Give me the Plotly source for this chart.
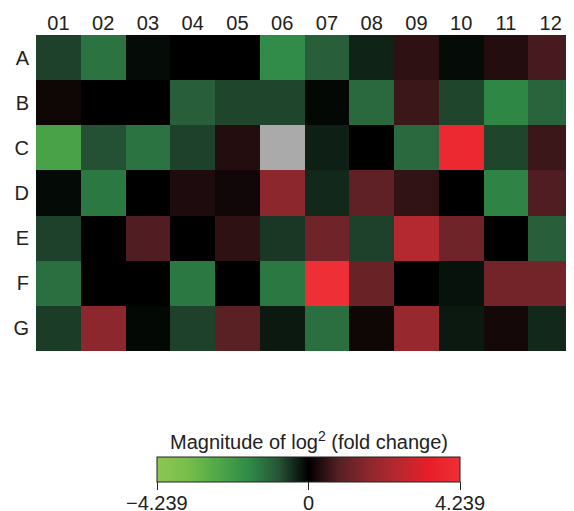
import plotly.graph_objects as go

rows = ["A", "B", "C", "D", "E", "F", "G"]
cols = ["01", "02", "03", "04", "05", "06", "07", "08", "09", "10", "11", "12"]

row_A = [-0.65, -1.31, -0.12, 0.0, 0.0, -1.70, -1.0, -0.35, 0.45, -0.12, 0.35, 0.70]
row_B = [0.15, 0.0, 0.0, -1.0, -0.70, -0.70, -0.08, -1.16, 0.60, -0.70, -1.62, -1.08]
row_C = [-2.35, -0.80, -1.31, -0.65, 0.35, None, -0.32, 0.0, -1.16, 3.9, -0.70, 0.60]
row_D = [-0.10, -1.39, 0.0, 0.30, 0.18, 1.70, -0.40, 1.0, 0.50, 0.0, -1.55, 0.80]
row_E = [-0.65, 0.0, 0.80, 0.0, 0.45, -0.55, 1.23, -0.65, 2.45, 1.23, 0.0, -1.0]
row_F = [-1.23, 0.0, 0.0, -1.39, 0.0, -1.39, 4.239, 1.16, 0.0, -0.18, 1.31, 1.31]
row_G = [-0.60, 1.70, -0.08, -0.65, 0.93, -0.25, -1.23, 0.15, 1.89, -0.25, 0.20, -0.40]

z = [row_A, row_B, row_C, row_D, row_E, row_F, row_G]
zlim = 4.239
tick_vals = [-4.239, 0, 4.239]
tick_text = ["\u22124.239", "0", "4.239"]
cbar_title = "Magnitude of log<sup>2</sup> (fold change)"

colorscale = [
    [0.0, "rgb(140,198,82)"],
    [0.1, "rgb(120,190,75)"],
    [0.2, "rgb(80,168,72)"],
    [0.3, "rgb(48,140,72)"],
    [0.4, "rgb(38,85,55)"],
    [0.5, "rgb(0,0,0)"],
    [0.6, "rgb(85,32,36)"],
    [0.7, "rgb(140,40,45)"],
    [0.8, "rgb(185,40,48)"],
    [0.9, "rgb(232,30,40)"],
    [1.0, "rgb(238,48,54)"],
]

font = "Liberation Sans, Arial, sans-serif"
# page body has an 8px margin: figure coordinates = reference - 8
W, H = 566, 520
L, R, T = 28, 1, 27
plot_bottom = 343
B = H - plot_bottom
pw, ph = W - L - R, H - T - B
cb_len = 303
cb_center = 300.5
cx = (cb_center - L) / pw
cb_top = 449

fig = go.Figure(go.Heatmap(
    z=z, x=cols, y=rows,
    zmin=-zlim, zmax=zlim,
    colorscale=colorscale,
    hoverongaps=False,
    colorbar=dict(
        orientation="h",
        x=cx, xanchor="center",
        y=-(cb_top - plot_bottom) / ph, yanchor="top",
        lenmode="pixels", len=cb_len,
        thickness=25,
        outlinewidth=1, outlinecolor="#222",
        tickmode="array", tickvals=tick_vals,
        ticks="outside", ticklen=8, tickcolor="#222",
        showticklabels=False,
        xpad=0, ypad=0,
    ),
))

# colour-bar tick labels placed on the bar's own value scale
for v, t in zip(tick_vals, tick_text):
    px = cb_center + (v / zlim) * (cb_len / 2)
    fig.add_annotation(
        text=t, xref="paper", yref="paper",
        x=(px - L) / pw, xanchor="center",
        y=-(495 - plot_bottom) / ph, yanchor="middle",
        showarrow=False, font=dict(size=20, color="#222", family=font),
    )

fig.add_annotation(
    text=cbar_title, xref="paper", yref="paper",
    x=cx, xanchor="center",
    y=-(432 - plot_bottom) / ph, yanchor="middle",
    showarrow=False, font=dict(size=20, color="#222", family=font),
)

fig.update_xaxes(type="category", side="top", showgrid=False, zeroline=False,
                 ticks="", tickfont=dict(size=20, color="#222", family=font))
fig.update_yaxes(type="category", autorange="reversed", showgrid=False, zeroline=False,
                 ticks="", ticklabelstandoff=6,
                 tickfont=dict(size=20, color="#222", family=font))

fig.update_layout(
    width=W, height=H,
    margin=dict(l=L, r=R, t=T, b=B, autoexpand=False),
    paper_bgcolor="white", plot_bgcolor="rgb(170,170,170)",
    font=dict(family=font, color="#222"),
)

fig.write_html("out.html")
